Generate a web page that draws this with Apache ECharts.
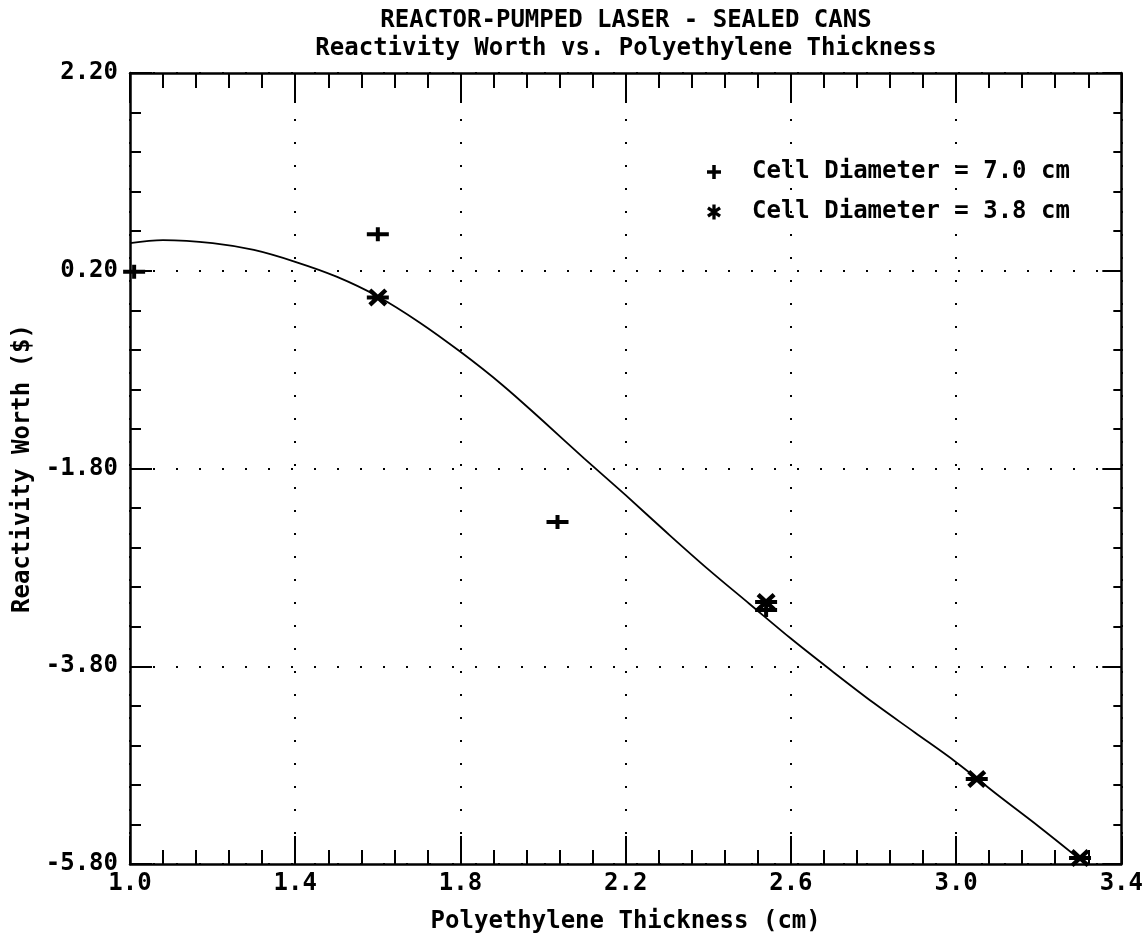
<!DOCTYPE html>
<html>
<head>
<meta charset="utf-8">
<script src="https://cdn.jsdelivr.net/npm/echarts@6/dist/echarts.min.js"></script>
<style>
html,body{margin:0;padding:0;background:#fff;}
#chart{width:1146px;height:945px;}
</style>
</head>
<body>
<div id="chart"></div>
<script>
// ---- data ----
const thickness70 = [1.01, 1.60, 2.035, 2.54];
const worth70     = [0.19, 0.57, -2.34, -3.23];
const thickness38 = [1.60, 2.54, 3.05, 3.30];
const worth38     = [-0.07, -3.15, -4.94, -5.74];
const fitThickness = [1.00, 1.08, 1.20, 1.30, 1.40, 1.50, 1.60, 1.70, 1.80, 1.90, 2.00, 2.10, 2.20, 2.30, 2.40, 2.50, 2.60, 2.70, 2.80, 2.90, 3.00, 3.10, 3.20, 3.29];
const fitWorth     = [0.48, 0.51, 0.48, 0.41, 0.29, 0.14, -0.06, -0.32, -0.62, -0.95, -1.32, -1.70, -2.07, -2.45, -2.82, -3.17, -3.52, -3.85, -4.17, -4.47, -4.77, -5.10, -5.42, -5.72];
const xTickLabels = ['1.0', '1.4', '1.8', '2.2', '2.6', '3.0', '3.4'];
const yTickLabels = ['-5.80', '-3.80', '-1.80', '0.20', '2.20'];
const seriesNames = ['Cell Diameter = 7.0 cm', 'Cell Diameter = 3.8 cm'];
const titleLines = ['REACTOR-PUMPED LASER - SEALED CANS', 'Reactivity Worth vs. Polyethylene Thickness'];

// axis origin offsets (so ticks start exactly at the axis minimum)
const X0 = 1.0, XSPAN = 2.4, XSTEP = 0.4;
const Y0 = -5.8, YSPAN = 8.0, YSTEP = 2.0;

const FONT = '"DejaVu Sans Mono", "Liberation Mono", monospace';

const plusPath = 'path://M9,0H13V5H22V9H13V14H9V9H0V5H9Z';
const starPath = 'path://M0,6.5H22V10.5H0Z M4.505,-0.605L20.505,14.395L17.495,17.605L1.495,2.605Z M20.505,2.605L4.505,17.605L1.495,14.395L17.495,-0.605Z';
const plusLegendPath = 'path://M5.25,0H8.75V5.25H14V8.75H8.75V14H5.25V8.75H0V5.25H5.25Z';
const starLegendPath = 'path://M5.25,0H8.75V16H5.25Z M1.496,2.061L14.496,11.061L12.504,13.939L-0.496,4.939Z M14.496,4.939L1.496,13.939L-0.496,11.061L12.504,2.061Z';

const pairs = (xs, ys) => xs.map((x, i) => [x - X0, ys[i] - Y0]);

const chart = echarts.init(document.getElementById('chart'), null, {renderer: 'canvas'});

const GRID = {left: 130, top: 73, width: 992, height: 791};
const black = '#000';

function xAxisBase(pos, major, minor, showLabel) {
  return {
    type: 'value', min: 0, max: XSPAN, interval: XSTEP, position: pos,
    axisLine: {show: true, onZero: false, lineStyle: {color: black, width: 2.5}},
    axisTick: {show: true, inside: true, length: major, lineStyle: {color: black, width: 2}},
    minorTick: {show: true, splitNumber: 5, length: minor, lineStyle: {color: black, width: 2}},
    minorSplitLine: {show: false},
    axisLabel: {
      show: showLabel, color: black, fontFamily: FONT, fontSize: 24, fontWeight: 'bold', margin: 8,
      formatter: v => xTickLabels[Math.round(v / XSTEP)]
    },
    splitLine: {show: showLabel, lineStyle: {color: black, width: 2, type: [2, 21]}}
  };
}
function yAxisBase(pos, major, minor, showLabel) {
  return {
    type: 'value', min: 0, max: YSPAN, interval: YSTEP, position: pos,
    axisLine: {show: true, onZero: false, lineStyle: {color: black, width: 2.5}},
    axisTick: {show: true, inside: true, length: major, lineStyle: {color: black, width: 2}},
    minorTick: {show: true, splitNumber: 5, length: minor, lineStyle: {color: black, width: 2}},
    minorSplitLine: {show: false},
    axisLabel: {
      show: showLabel, color: black, fontFamily: FONT, fontSize: 24, fontWeight: 'bold', margin: 12,
      formatter: v => yTickLabels[Math.round(v / YSTEP)]
    },
    splitLine: {show: showLabel, lineStyle: {color: black, width: 2, type: [2, 21]}}
  };
}

const xMain = Object.assign(xAxisBase('bottom', 28, 14, true), {
  name: 'Polyethylene Thickness (cm)', nameLocation: 'middle', nameGap: 46,
  nameTextStyle: {color: black, fontFamily: FONT, fontSize: 24, fontWeight: 'bold'}
});
const yMain = Object.assign(yAxisBase('left', 22, 11, true), {
  name: 'Reactivity Worth ($)', nameLocation: 'middle', nameGap: 90,
  nameTextStyle: {color: black, fontFamily: FONT, fontSize: 24, fontWeight: 'bold'}
});

const option = {
  backgroundColor: '#fff',
  animation: false,
  grid: GRID,
  graphic: [
    {type: 'text', x: 626, y: 21, style: {text: titleLines[0], x: 0, y: 0, textAlign: 'center', textVerticalAlign: 'middle', font: 'bold 24px ' + FONT, fill: black}},
    {type: 'text', x: 626, y: 49, style: {text: titleLines[1], x: 0, y: 0, textAlign: 'center', textVerticalAlign: 'middle', font: 'bold 24px ' + FONT, fill: black}}
  ],
  legend: {
    show: true, orient: 'vertical', left: 702, top: 155, itemWidth: 14, itemHeight: 16, itemGap: 16,
    selectedMode: false,
    textStyle: {color: black, fontFamily: FONT, fontSize: 24, fontWeight: 'bold', lineHeight: 24, padding: [0, 0, 0, 26]},
    data: [
      {name: seriesNames[0], icon: plusLegendPath},
      {name: seriesNames[1], icon: starLegendPath}
    ]
  },
  xAxis: [xMain, xAxisBase('top', 30, 15, false)],
  yAxis: [yMain, yAxisBase('right', 19, 8, false)],
  series: [
    {
      type: 'line', name: 'fit', xAxisIndex: 0, yAxisIndex: 0,
      data: pairs(fitThickness, fitWorth), showSymbol: false, symbol: 'none', smooth: 0.35,
      lineStyle: {color: black, width: 1.8}, z: 2, silent: true
    },
    {
      type: 'scatter', name: seriesNames[0], xAxisIndex: 0, yAxisIndex: 0,
      data: pairs(thickness70, worth70), symbol: plusPath, symbolSize: [22, 14],
      itemStyle: {color: black, opacity: 1}, z: 3
    },
    {
      type: 'scatter', name: seriesNames[1], xAxisIndex: 0, yAxisIndex: 0,
      data: pairs(thickness38, worth38), symbol: starPath, symbolSize: [22, 18],
      itemStyle: {color: black, opacity: 1}, z: 4
    }
  ]
};
chart.setOption(option);
</script>
</body>
</html>
